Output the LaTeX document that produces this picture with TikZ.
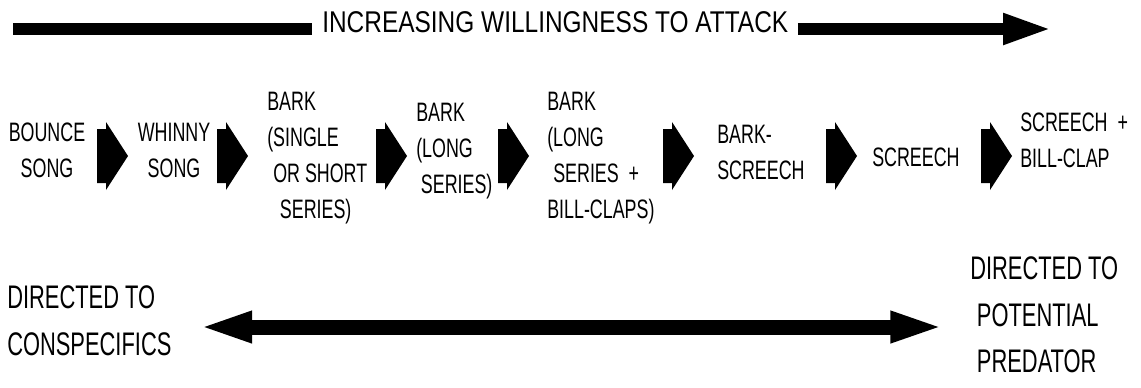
\documentclass[tikz,border=0pt]{standalone}
\usepackage{fontspec}
\setmainfont[FakeStretch=0.67]{Liberation Sans}
\newfontfamily\headfont[FakeStretch=0.815]{Liberation Sans}
\usetikzlibrary{arrows.meta}

\tikzset{
  call/.style={inner sep=0pt, align=left, font=\fontsize{20}{27}\selectfont},
  sidelabel/.style={inner sep=0pt, align=left, font=\fontsize{24.5}{35}\selectfont},
  headline/.style={inner sep=0pt, font=\headfont\fontsize{22.5}{27}\selectfont},
  topbar/.style={line width=9.4pt},
  botbar/.style={line width=11.25pt},
}

\begin{document}
\begin{tikzpicture}[x=0.75pt,y=-0.75pt]
  \useasboundingbox (0,0) rectangle (1141,387);
  % top arrow
  \node[headline, anchor=base west] (title) at (322,32) {INCREASING WILLINGNESS TO ATTACK};
  \coordinate (tl) at (13,29);
  \coordinate (tr) at (1053,29);
  \draw[topbar, shorten >=7.5pt] (tl) -- (tl -| title.west);
  \draw[topbar, -{Triangle[length=37.5pt,width=21pt]}, shorten <=7pt] (title.east |- tr) -- (tr);
  % calls
  \node[call, align=center] (bounce) at (47,150) {BOUNCE\\SONG};
  \node[call, align=center] (whinny) at (174,150) {WHINNY\\SONG};
  \node[call, anchor=west] (barkshort) at (267,158) {BARK\\(SINGLE\\\hspace*{4.5pt}OR SHORT\\\hspace*{9.5pt}SERIES)};
  \node[call, anchor=west] (barklong) at (416,151) {BARK\\(LONG\\\hspace*{3.5pt}SERIES)};
  \node[call, anchor=west] (barkclaps) at (547,158) {BARK\\(LONG\\\hspace*{4.5pt}SERIES\ \ +\\BILL-CLAPS)};
  \node[call, anchor=west] (barkscreech) at (717,152) {BARK-\\SCREECH};
  \node[call, anchor=west] (screech) at (872,157) {SCREECH};
  \node[call, anchor=west] (screechclap) at (1020,140) {SCREECH\ \ +\\BILL-CLAP};
  % fat arrows between calls
  \foreach \ax in {97,217,376,498,663,826,981}
    \fill (\ax,129) -- ++(9,0) -- ++(0,-7) -- ++(22,34) -- ++(-22,34) -- ++(0,-7) -- ++(-9,0) -- cycle;
  % bottom arrow
  \node[sidelabel, anchor=west] (conspec) at (7,321) {DIRECTED TO\\CONSPECIFICS};
  \node[sidelabel, anchor=west] (predator) at (970,315) {DIRECTED TO\\\hspace*{5pt}POTENTIAL\\\hspace*{5pt}PREDATOR};
  \coordinate (bl) at (198,327);
  \coordinate (br) at (945,327);
  \draw[botbar, {Triangle[length=40.5pt,width=21pt]}-{Triangle[length=41pt,width=21pt]}] (bl) -- (br);
\end{tikzpicture}
\end{document}
